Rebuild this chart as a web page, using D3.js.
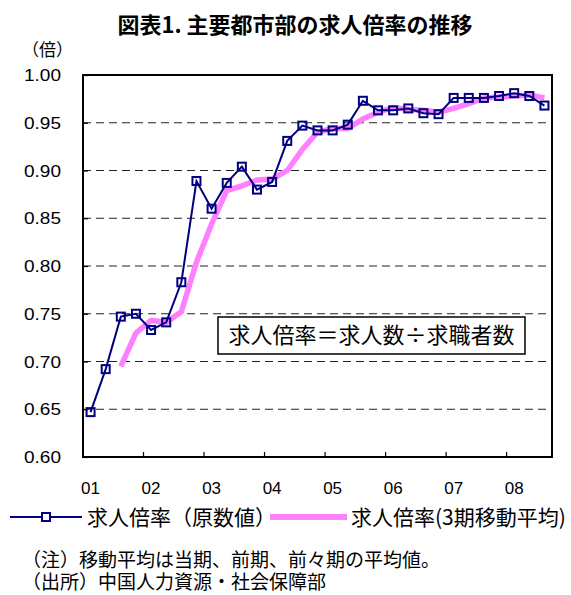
<!DOCTYPE html>
<html><head><meta charset="utf-8">
<script src="https://cdn.jsdelivr.net/npm/d3@7"></script>
<style>
  body { margin: 0; background: #fff; }
  svg { display: block; }
  text { font-family: "Liberation Sans", "Noto Sans CJK JP", sans-serif; fill: #000; }
  .cjk { font-family: "Noto Sans CJK JP", "Liberation Sans", sans-serif; }
</style>
</head><body>
<svg id="chart" width="571" height="595"></svg>
<script>
// Quarterly categories, 2001Q1 - 2008Q3
const quarters = [
  "01Q1","01Q2","01Q3","01Q4","02Q1","02Q2","02Q3","02Q4",
  "03Q1","03Q2","03Q3","03Q4","04Q1","04Q2","04Q3","04Q4",
  "05Q1","05Q2","05Q3","05Q4","06Q1","06Q2","06Q3","06Q4",
  "07Q1","07Q2","07Q3","07Q4","08Q1","08Q2","08Q3"
];
// Year labels placed on the first quarter of each year
const yearLabels = ["01","02","03","04","05","06","07","08"];
const yearStart  = ["01Q1","02Q1","03Q1","04Q1","05Q1","06Q1","07Q1","08Q1"];

// Job-openings-to-applicants ratio (raw)
const ratio = [
  0.647, 0.692, 0.747, 0.750, 0.733, 0.741, 0.783, 0.889,
  0.860, 0.887, 0.904, 0.880, 0.888, 0.931, 0.947, 0.942,
  0.942, 0.948, 0.973, 0.963, 0.963, 0.965, 0.960, 0.959,
  0.976, 0.976, 0.976, 0.978, 0.981, 0.978, 0.968
];
// 3-quarter moving average
const ratioMA = [
  null, null, 0.695, 0.730, 0.743, 0.741, 0.752, 0.804,
  0.844, 0.879, 0.884, 0.890, 0.891, 0.900, 0.922, 0.940,
  0.944, 0.944, 0.954, 0.961, 0.966, 0.964, 0.963, 0.961,
  0.965, 0.970, 0.976, 0.977, 0.978, 0.979, 0.976
];
const yTicks = [0.60, 0.65, 0.70, 0.75, 0.80, 0.85, 0.90, 0.95, 1.00];

const svg = d3.select("#chart");
const L = 83, R = 552, T = 75, B = 457;

const x = d3.scaleBand().domain(quarters).range([L, R]);
const y = d3.scaleLinear().domain([0.6, 1.0]).range([B, T]);
const cx = q => x(q) + x.bandwidth() / 2;

// Title
svg.append("text").attr("class", "cjk")
  .attr("x", 295).attr("y", 33).attr("text-anchor", "middle")
  .attr("font-size", 22).attr("font-weight", "bold")
  .text("図表1. 主要都市部の求人倍率の推移");

// Unit label
svg.append("text").attr("class", "cjk")
  .attr("x", 22).attr("y", 56).attr("font-size", 17)
  .text("（倍）");

// Dashed gridlines
svg.append("g").selectAll("line")
  .data(yTicks.filter(v => v > 0.6 && v < 1.0))
  .join("line")
  .attr("x1", L).attr("x2", R)
  .attr("y1", d => y(d)).attr("y2", d => y(d))
  .attr("stroke", "#222").attr("stroke-width", 1)
  .attr("stroke-dasharray", "8,5");

// Y axis (ticks pointing inward)
const yAxis = svg.append("g").attr("transform", `translate(${L},0)`)
  .call(d3.axisRight(y).tickValues(yTicks).tickSize(5).tickFormat(""));
yAxis.select(".domain").remove();
yAxis.selectAll(".tick line").attr("stroke", "#000").attr("stroke-width", 1.2);

svg.append("g").selectAll("text")
  .data(yTicks).join("text")
  .attr("x", 61).attr("y", d => y(d) + 6)
  .attr("text-anchor", "end").attr("font-size", 17)
  .attr("textLength", 37).attr("lengthAdjust", "spacingAndGlyphs")
  .text(d => d3.format(".2f")(d));

// X axis ticks at year boundaries, pointing inward
svg.append("g").selectAll("line")
  .data(yearStart.slice(1)).join("line")
  .attr("x1", d => x(d)).attr("x2", d => x(d))
  .attr("y1", B).attr("y2", B - 5)
  .attr("stroke", "#000").attr("stroke-width", 1.2);

svg.append("g").selectAll("text")
  .data(yearLabels).join("text")
  .attr("x", (d, i) => cx(yearStart[i]))
  .attr("y", 494).attr("text-anchor", "middle").attr("font-size", 17)
  .text(d => d);

// Moving average line
const maLine = d3.line()
  .defined(d => d[1] != null)
  .x(d => cx(d[0])).y(d => y(d[1]));
svg.append("path")
  .datum(quarters.map((q, i) => [q, ratioMA[i]]))
  .attr("d", maLine)
  .attr("fill", "none").attr("stroke", "#ff80ff")
  .attr("stroke-width", 5.5).attr("stroke-linejoin", "miter");

// Raw ratio line with hollow square markers
const rawLine = d3.line().x(d => cx(d[0])).y(d => y(d[1]));
svg.append("path")
  .datum(quarters.map((q, i) => [q, ratio[i]]))
  .attr("d", rawLine)
  .attr("fill", "none").attr("stroke", "#000080").attr("stroke-width", 2);

svg.append("g").selectAll("rect")
  .data(quarters.map((q, i) => [q, ratio[i]])).join("rect")
  .attr("x", d => cx(d[0]) - 4).attr("y", d => y(d[1]) - 4)
  .attr("width", 8).attr("height", 8)
  .attr("fill", "none").attr("stroke", "#000080").attr("stroke-width", 2);

// Plot frame
svg.append("rect")
  .attr("x", L).attr("y", T).attr("width", R - L).attr("height", B - T)
  .attr("fill", "none").attr("stroke", "#000").attr("stroke-width", 2);

// Formula box
svg.append("rect")
  .attr("x", 218).attr("y", 317).attr("width", 307).attr("height", 37)
  .attr("fill", "#fff").attr("stroke", "#000").attr("stroke-width", 1.5);
svg.append("text").attr("class", "cjk")
  .attr("x", 371.5).attr("y", 343).attr("text-anchor", "middle")
  .attr("font-size", 22)
  .text("求人倍率＝求人数÷求職者数");

// Legend
const lg = svg.append("g");
lg.append("line").attr("x1", 10).attr("x2", 82).attr("y1", 517).attr("y2", 517)
  .attr("stroke", "#000080").attr("stroke-width", 2);
lg.append("rect").attr("x", 42).attr("y", 513).attr("width", 8).attr("height", 8)
  .attr("fill", "#fff").attr("stroke", "#000080").attr("stroke-width", 2);
lg.append("text").attr("class", "cjk").attr("x", 87).attr("y", 525)
  .attr("font-size", 21).text("求人倍率（原数値）");
lg.append("line").attr("x1", 270).attr("x2", 347).attr("y1", 517).attr("y2", 517)
  .attr("stroke", "#ff80ff").attr("stroke-width", 6);
lg.append("text").attr("class", "cjk").attr("x", 351).attr("y", 525)
  .attr("font-size", 21).text("求人倍率(3期移動平均)");

// Notes
svg.append("text").attr("class", "cjk").attr("x", 22).attr("y", 567)
  .attr("font-size", 19).text("（注）移動平均は当期、前期、前々期の平均値。");
svg.append("text").attr("class", "cjk").attr("x", 22).attr("y", 589)
  .attr("font-size", 19).text("（出所）中国人力資源・社会保障部");
</script>
</body></html>
